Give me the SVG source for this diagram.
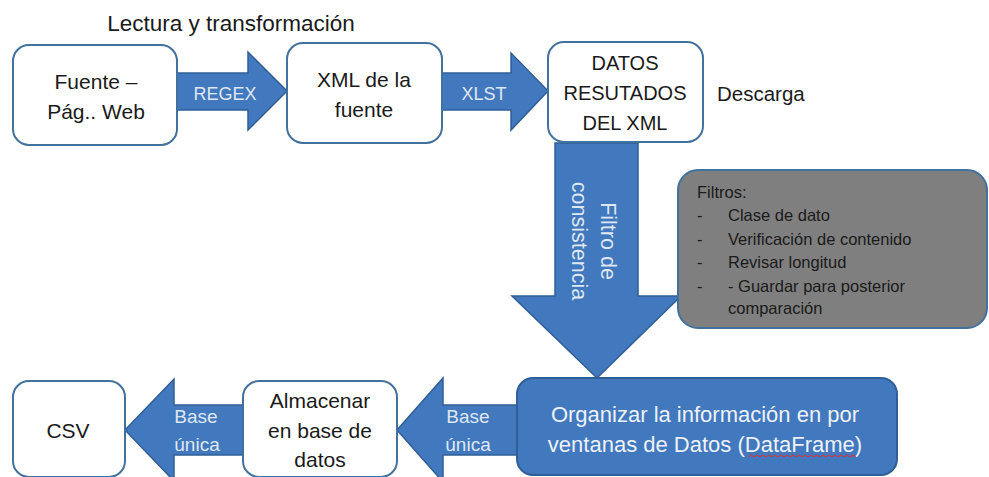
<svg xmlns="http://www.w3.org/2000/svg" width="989" height="477" viewBox="0 0 989 477">
<style>
  .box { fill: #ffffff; stroke: #41719c; stroke-width: 2; }
  .arrow { fill: #4178be; stroke: #2f5f95; stroke-width: 1.5; stroke-linejoin: miter; }
  .t { font-family: "Liberation Sans", Arial, sans-serif; font-size: 21px; fill: #1a1a1a; text-anchor: middle; }
  .al { font-family: "Liberation Sans", Arial, sans-serif; font-size: 18px; fill: #dfe7f3; text-anchor: middle; }
  .g { font-family: "Liberation Sans", Arial, sans-serif; font-size: 16.5px; fill: #1a1a1a; }
  .w { font-family: "Liberation Sans", Arial, sans-serif; font-size: 22px; fill: #eef2f8; text-anchor: middle; }
</style>
<rect width="989" height="477" fill="#ffffff"/>

<text class="t" x="231" y="31" style="font-size:22.5px">Lectura y transformación</text>
<text class="t" x="717" y="101" style="text-anchor:start;font-size:20.5px">Descarga</text>

<g id="connectors">
  <g id="arrow-regex">
    <path class="arrow" d="M177,73 H248 V52 L287,91 L248,130 V110 H177 Z"/>
    <text class="al" x="225" y="100">REGEX</text>
  </g>
  <g id="arrow-xlst">
    <path class="arrow" d="M442,73 H511 V53 L548,91 L511,130 V110 H442 Z"/>
    <text class="al" x="484" y="100">XLST</text>
  </g>
  <g id="arrow-filtro">
    <path class="arrow" d="M555,143 H638 V296 H681 L597,378 L512,296 H555 Z"/>
    <g transform="translate(596,241) rotate(90)">
      <text class="al" x="0" y="-5" style="font-size:21.5px">Filtro de</text>
      <text class="al" x="0" y="24" style="font-size:21.5px">consistencia</text>
    </g>
  </g>
  <g id="arrow-base1">
    <path class="arrow" d="M243,405 V455 H174 V481 L125,430 L174,379 V405 Z"/>
    <text class="al" x="196" y="423" style="font-size:19px">Base</text>
    <text class="al" x="197" y="451" style="font-size:19px">única</text>
  </g>
  <g id="arrow-base2">
    <path class="arrow" d="M517,405 V455 H443 V482 L397,430 L443,378 V405 Z"/>
    <text class="al" x="468" y="423" style="font-size:19px">Base</text>
    <text class="al" x="468" y="451" style="font-size:19px">única</text>
  </g>
</g>

<g id="fuente">
  <rect class="box" x="13" y="45" width="164" height="100" rx="16"/>
  <text class="t" x="96" y="89">Fuente –</text>
  <text class="t" x="96" y="119">Pág.. Web</text>
</g>

<g id="xml">
  <rect class="box" x="287" y="43" width="155" height="100" rx="16"/>
  <text class="t" x="364" y="87">XML de la</text>
  <text class="t" x="364" y="117">fuente</text>
</g>

<g id="datos">
  <rect class="box" x="548" y="42" width="155" height="100" rx="16"/>
  <text class="t" x="625" y="70" style="font-size:20px">DATOS</text>
  <text class="t" x="625" y="100" style="font-size:20px">RESUTADOS</text>
  <text class="t" x="625" y="130" style="font-size:20px">DEL XML</text>
</g>

<g id="filtros">
  <rect x="678" y="170" width="309" height="158" rx="20" fill="#7f7f7f" stroke="#41719c" stroke-width="2"/>
  <text class="g" x="697" y="198">Filtros:</text>
  <text class="g" x="697" y="221">-</text>
  <text class="g" x="728" y="221">Clase de dato</text>
  <text class="g" x="697" y="245">-</text>
  <text class="g" x="728" y="245">Verificación de contenido</text>
  <text class="g" x="697" y="268">-</text>
  <text class="g" x="728" y="268">Revisar longitud</text>
  <text class="g" x="697" y="292">-</text>
  <text class="g" x="728" y="292">- Guardar para posterior</text>
  <text class="g" x="728" y="314">comparación</text>
</g>

<g id="organizar">
  <rect x="517" y="378" width="380" height="97" rx="16" fill="#4178be" stroke="#2f5f95" stroke-width="2"/>
  <text class="w" x="705" y="422">Organizar la información en por</text>
  <text class="w" x="705" y="452">ventanas de Datos (DataFrame)</text>
  <path d="M748,457 l3,-2 l3,2 l3,-2 l3,2 l3,-2 l3,2 l3,-2 l3,2 l3,-2 l3,2 l3,-2 l3,2 l3,-2 l3,2 l3,-2 l3,2 l3,-2 l3,2 l3,-2 l3,2 l3,-2 l3,2 l3,-2 l3,2 l3,-2 l3,2 l3,-2 l3,2 l3,-2 l3,2 l3,-2 l3,2 l3,-2 l3,2 l3,-2 l3,2" fill="none" stroke="#e03030" stroke-width="1"/>
</g>

<g id="almacenar">
  <rect class="box" x="243" y="381" width="154" height="96" rx="16"/>
  <text class="t" x="320" y="408">Almacenar</text>
  <text class="t" x="320" y="438">en base de</text>
  <text class="t" x="320" y="467">datos</text>
</g>

<g id="csv">
  <rect class="box" x="13" y="381" width="112" height="96" rx="16"/>
  <text class="t" x="68" y="438">CSV</text>
</g>
</svg>
